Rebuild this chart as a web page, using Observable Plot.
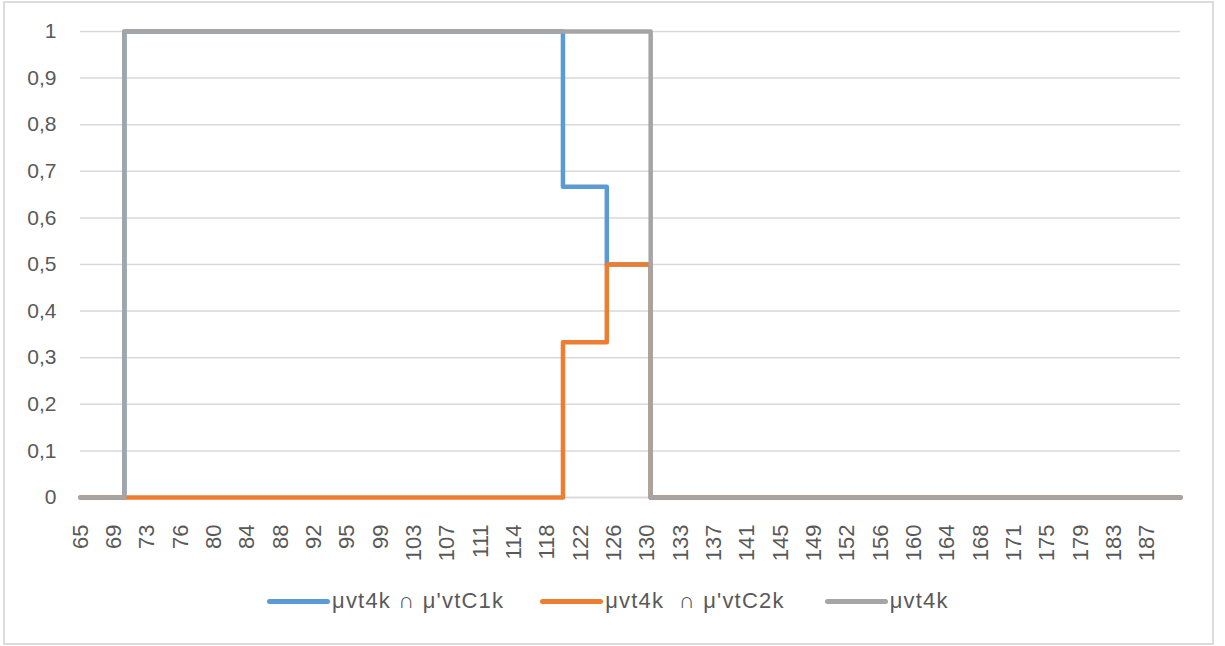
<!DOCTYPE html>
<html>
<head>
<meta charset="utf-8">
<script src="https://cdn.jsdelivr.net/npm/d3@7"></script>
<script src="https://cdn.jsdelivr.net/npm/@observablehq/plot@0.6"></script>
<style>
  html, body { margin: 0; padding: 0; background: #fff; }
  #wrap { position: relative; width: 1225px; height: 646px; overflow: hidden; font-family: "Liberation Sans", Arial, sans-serif; }
  #frame { position: absolute; left: 3px; top: 1px; width: 1207px; height: 640px; border: 2px solid #dcdcdc; }
  #chart { position: absolute; left: 0; top: 0; }
  #legend { position: absolute; left: 267px; top: 588px; display: flex; }
  .item { display: flex; align-items: center; font-size: 22px; color: #595959; letter-spacing: 1.2px; }
  .sw { width: 63px; height: 5px; border-radius: 3px; margin-right: 2px; }
</style>
</head>
<body>
<div id="wrap">
  <div id="frame"></div>
  <div id="chart"></div>
  <div id="legend"></div>
</div>
<script>
// Category axis: first and last category values
const xFirst = 65;
const xLast = 190.4;

// Tick positions (every second category) and their labels as shown
const tickValues = [65, 68.8, 72.6, 76.4, 80.2, 84, 87.8, 91.6, 95.4, 99.2, 103, 106.8, 110.6, 114.4, 118.2, 122, 125.8, 129.6, 133.4, 137.2, 141, 144.8, 148.6, 152.4, 156.2, 160, 163.8, 167.6, 171.4, 175.2, 179, 182.8, 186.6];
const tickLabels = ["65","69","73","76","80","84","88","92","95","99","103","107","111","114","118","122","126","130","133","137","141","145","149","152","156","160","164","168","171","175","179","183","187"];

// Series (step points: value holds until next x)
const names = ["μvt4k ∩ μ'vtC1k", "μvt4k  ∩ μ'vtC2k", "μvt4k"];
const colors = ["#5B9BD5", "#ED7D31", "#A5A5A5"];

const s1x = [65, 70, 120, 125, 130, 190.4];
const s1y = [0, 1, 0.667, 0.5, 0, 0];
const s2x = [65, 120, 125, 130, 190.4];
const s2y = [0, 0.333, 0.5, 0, 0];
const s3x = [65, 70, 130, 190.4];
const s3y = [0, 1, 0, 0];

const yTicks = [0, 0.1, 0.2, 0.3, 0.4, 0.5, 0.6, 0.7, 0.8, 0.9, 1];

const mk = (xs, ys, name) => xs.map((x, i) => ({x, y: ys[i], name}));
const d1 = mk(s1x, s1y, names[0]);
const d2 = mk(s2x, s2y, names[1]);
const d3s = mk(s3x, s3y, names[2]);

const fmtY = v => String(Math.round(v * 10) / 10).replace(".", ",");

const chart = Plot.plot({
  width: 1225,
  height: 575,
  marginLeft: 80,
  marginRight: 45,
  marginTop: 31,
  marginBottom: 78,
  style: { fontFamily: "'Liberation Sans', Arial, sans-serif", fontSize: "22px", color: "#595959", background: "transparent" },
  x: { type: "linear", domain: [xFirst, xLast] },
  y: { domain: [0, 1] },
  marks: [
    Plot.gridY(yTicks, { stroke: "#d9d9d9", strokeOpacity: 1, strokeWidth: 1.5 }),
    Plot.ruleY([0], { stroke: "#d9d9d9", strokeWidth: 1.5 }),
    Plot.axisY(yTicks, { tickSize: 0, tickPadding: 24, tickFormat: fmtY, fontSize: 21, fill: "#595959", label: null }),
    Plot.axisX(tickValues, { tickSize: 0, tickPadding: 18, dy: 9, tickRotate: -90, tickFormat: (d, i) => tickLabels[i], fontSize: 22, fill: "#595959", label: null }),
    Plot.line(d1, { x: "x", y: "y", curve: "step-after", stroke: colors[0], strokeWidth: 4.5 }),
    Plot.line(d2, { x: "x", y: "y", curve: "step-after", stroke: colors[1], strokeWidth: 4.5 }),
    Plot.line(d3s, { x: "x", y: "y", curve: "step-after", stroke: colors[2], strokeWidth: 4.5 })
  ]
});
document.getElementById("chart").appendChild(chart);

const legend = document.getElementById("legend");
const gaps = [0, 36, 40];
names.forEach((n, i) => {
  const it = document.createElement("div");
  it.className = "item";
  it.style.marginLeft = gaps[i] + "px";
  const sw = document.createElement("div");
  sw.className = "sw";
  sw.style.background = colors[i];
  const tx = document.createElement("span");
  tx.textContent = n;
  tx.style.whiteSpace = "pre";
  it.appendChild(sw);
  it.appendChild(tx);
  legend.appendChild(it);
});
</script>
</body>
</html>
